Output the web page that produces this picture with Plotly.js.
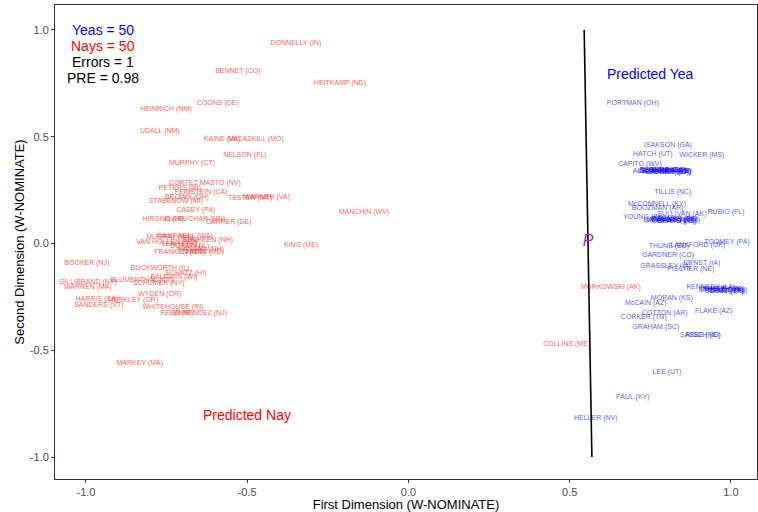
<!DOCTYPE html>
<html>
<head>
<meta charset="utf-8">
<script src="https://cdn.plot.ly/plotly-3.0.1.min.js"></script>
<style>html,body{margin:0;padding:0;background:#fff;}#chart{width:758px;height:512px;}</style>
</head>
<body>
<div id="chart"></div>
<script>
// Nay voters (W-NOMINATE coordinates)
var nayNames = ["DONNELLY (IN)","BENNET (CO)","HEITKAMP (ND)","COONS (DE)","HEINRICH (NM)","UDALL (NM)","KAINE (VA)","McCASKILL (MO)","NELSON (FL)","MURPHY (CT)",
  "CORTEZ MASTO (NV)","PETERS (MI)","FEINSTEIN (CA)","BROWN (OH)","STABENOW (MI)","TESTER (MT)","WARNER (VA)","CASEY (PA)","HIRONO (HI)","KLOBUCHAR (MN)",
  "CARPER (DE)","MANCHIN (WV)","KING (ME)","CANTWELL (WA)","MURRAY (WA)","SHAHEEN (NH)","VAN HOLLEN (MD)","LEAHY (VT)","DURBIN (IL)","HASSAN (NH)",
  "FRANKEN (MN)","CARDIN (MD)","BOOKER (NJ)","DUCKWORTH (IL)","SCHATZ (HI)","BALDWIN (WI)","BLUMENTHAL (CT)","SCHUMER (NY)","GILLIBRAND (NY)","WARREN (MA)",
  "WYDEN (OR)","HARRIS (CA)","MERKLEY (OR)","SANDERS (VT)","WHITEHOUSE (RI)","REED (RI)","MENENDEZ (NJ)","MARKEY (MA)","COLLINS (ME)","MURKOWSKI (AK)"];
var nayX = [-0.349,-0.529,-0.212,-0.591,-0.752,-0.771,-0.578,-0.473,-0.507,-0.671,
  -0.631,-0.709,-0.643,-0.687,-0.721,-0.491,-0.439,-0.659,-0.761,-0.662,
  -0.557,-0.138,-0.333,-0.693,-0.740,-0.622,-0.749,-0.705,-0.678,-0.643,
  -0.709,-0.640,-0.997,-0.770,-0.690,-0.727,-0.826,-0.774,-0.994,-0.994,
  -0.771,-0.966,-0.854,-0.960,-0.730,-0.718,-0.647,-0.833,0.491,0.628];
var nayY = [0.939,0.808,0.752,0.658,0.630,0.527,0.489,0.489,0.415,0.377,
  0.283,0.260,0.241,0.218,0.199,0.213,0.218,0.157,0.115,0.115,
  0.101,0.148,-0.007,0.035,0.030,0.016,0.007,-0.002,-0.012,-0.026,
  -0.040,-0.040,-0.091,-0.115,-0.137,-0.157,-0.171,-0.185,-0.180,-0.204,
  -0.237,-0.260,-0.268,-0.291,-0.297,-0.326,-0.326,-0.560,-0.471,-0.204];

// Yea voters
var yeaNames = ["PORTMAN (OH)","ISAKSON (GA)","HATCH (UT)","WICKER (MS)","CAPITO (WV)",
  "ALEXANDER (TN)","BURR (NC)","CASSIDY (LA)","COCHRAN (MS)","BLUNT (MO)","HOEVEN (ND)","JOHNSON (WI)","PERDUE (GA)",
  "TILLIS (NC)","McCONNELL (KY)","BOOZMAN (AR)","SULLIVAN (AK)","RUBIO (FL)","YOUNG (IN)",
  "BARRASSO (WY)","CORNYN (TX)","CRAPO (ID)","DAINES (MT)","ROBERTS (KS)","ROUNDS (SD)",
  "TOOMEY (PA)","LANKFORD (OK)","THUNE (SD)","GARDNER (CO)","ERNST (IA)","GRASSLEY (IA)","FISCHER (NE)","KENNEDY (LA)",
  "STRANGE (AL)","SHELBY (AL)","SCOTT (SC)","ENZI (WY)","INHOFE (OK)","CRUZ (TX)",
  "MORAN (KS)","McCAIN (AZ)","COTTON (AR)","FLAKE (AZ)","CORKER (TN)","GRAHAM (SC)","SASSE (NE)","RISCH (ID)",
  "LEE (UT)","PAUL (KY)","HELLER (NV)"];
var yeaX = [0.696,0.805,0.758,0.910,0.718,
  0.786,0.805,0.805,0.795,0.780,0.798,0.802,0.789,
  0.820,0.771,0.773,0.848,0.985,0.727,
  0.817,0.824,0.830,0.820,0.817,0.826,
  0.988,0.898,0.808,0.805,0.910,0.798,0.876,0.938,
  0.975,0.978,0.981,0.988,0.972,0.985,
  0.817,0.736,0.795,0.947,0.730,0.767,0.904,0.914,
  0.802,0.696,0.581];
var yeaY = [0.658,0.461,0.419,0.415,0.369,
  0.340,0.344,0.335,0.340,0.344,0.335,0.340,0.342,
  0.241,0.185,0.166,0.138,0.147,0.124,
  0.110,0.115,0.105,0.110,0.105,0.113,
  0.007,-0.007,-0.012,-0.054,-0.091,-0.105,-0.119,-0.204,
  -0.218,-0.213,-0.222,-0.218,-0.213,-0.222,
  -0.255,-0.279,-0.326,-0.316,-0.344,-0.394,-0.429,-0.429,
  -0.602,-0.719,-0.817];

// Cutting line and polarity marker
var cutX = [0.545, 0.569];
var cutY = [1.0, -1.0];
var polX = [0.557];
var polY = [0.007];

// Summary texts
var summaryText = ["Yeas = 50","Nays = 50","Errors = 1","PRE = 0.98"];
var summaryColor = ["blue","red","black","black"];

var labelFont = "Liberation Sans, Arial, sans-serif";

var traces = [
  {type:"scatter", mode:"text", x:nayX, y:nayY, text:nayNames, textposition:"middle center",
   textfont:{family:labelFont, size:7, color:"rgba(255,0,0,0.7)"}, hoverinfo:"text", showlegend:false},
  {type:"scatter", mode:"text", x:yeaX, y:yeaY, text:yeaNames, textposition:"middle center",
   textfont:{family:labelFont, size:7, color:"rgba(0,0,255,0.7)"}, hoverinfo:"text", showlegend:false},
  {type:"scatter", mode:"lines", x:cutX, y:cutY, line:{color:"black", width:1.6}, hoverinfo:"skip", showlegend:false},
  {type:"scatter", mode:"text", x:polX, y:polY, text:["<i>P</i>"], textposition:"middle center",
   textfont:{family:labelFont, size:16, color:"#A020F0"}, hoverinfo:"skip", showlegend:false}
];

var annotations = [];
var sumY = [30, 46, 62, 78];
for (var i = 0; i < summaryText.length; i++) {
  annotations.push({xref:"paper", yref:"paper", x:(103-55)/702, y:1-(sumY[i]-5)/474,
    text:summaryText[i], showarrow:false, xanchor:"center", yanchor:"middle",
    font:{family:labelFont, size:14, color:summaryColor[i]}});
}
annotations.push({xref:"paper", yref:"paper", x:(650-55)/702, y:1-(74-5)/474, text:"Predicted Yea",
  showarrow:false, xanchor:"center", yanchor:"middle", font:{family:labelFont, size:14, color:"blue"}});
annotations.push({xref:"paper", yref:"paper", x:(247-55)/702, y:1-(415-5)/474, text:"Predicted Nay",
  showarrow:false, xanchor:"center", yanchor:"middle", font:{family:labelFont, size:14, color:"red"}});

var axisCommon = {showgrid:false, zeroline:false, showline:true, mirror:true, linecolor:"#333333", linewidth:1,
  ticks:"outside", ticklen:3, tickcolor:"#333333", tickwidth:1,
  tickfont:{family:labelFont, size:11, color:"#4d4d4d"}, automargin:false,
  tickvals:[-1,-0.5,0,0.5,1], ticktext:["-1.0","-0.5","0.0","0.5","1.0"]};

var layout = {
  width:758, height:512,
  margin:{l:55, r:1, t:5, b:33},
  paper_bgcolor:"white", plot_bgcolor:"white",
  font:{family:labelFont},
  xaxis:Object.assign({}, axisCommon, {range:[-1.096,1.081],
    title:{text:"First Dimension (W-NOMINATE)", font:{family:labelFont, size:13, color:"#000"}, standoff:2}}),
  yaxis:Object.assign({}, axisCommon, {range:[-1.103,1.117],
    title:{text:"Second Dimension (W-NOMINATE)", font:{family:labelFont, size:13, color:"#000"}, standoff:2}}),
  annotations:annotations,
  showlegend:false
};

Plotly.newPlot("chart", traces, layout, {displayModeBar:false, staticPlot:true});
</script>
</body>
</html>
